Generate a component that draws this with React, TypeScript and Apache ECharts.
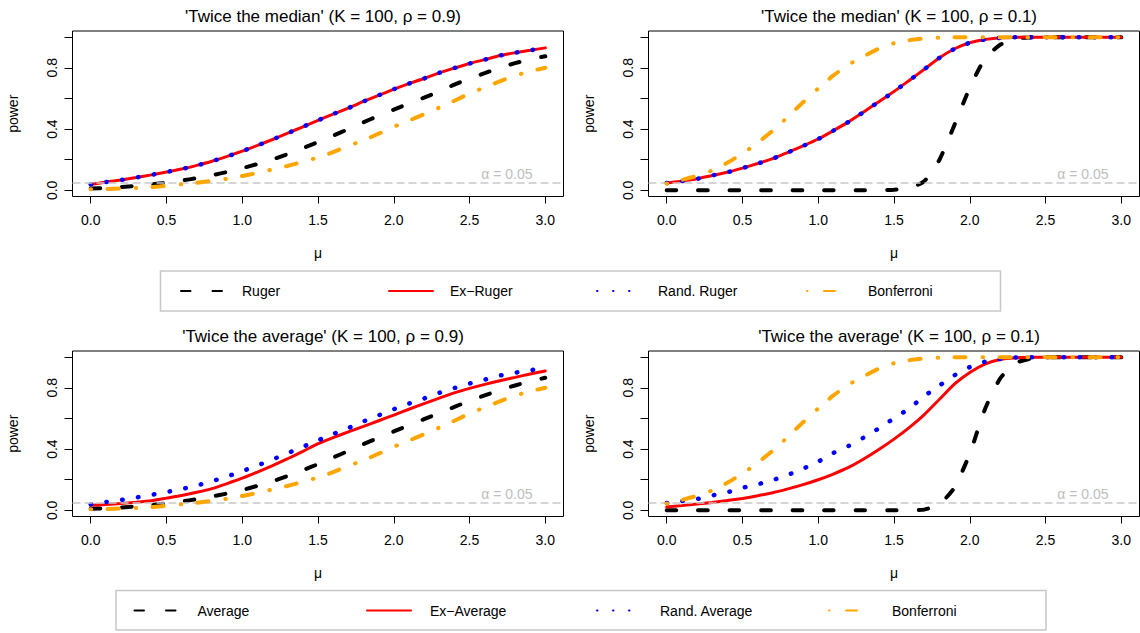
import React, { useEffect, useRef } from "react";
import * as echarts from "echarts";

// ---------- data ----------
const MU = [0.0, 0.1, 0.2, 0.3, 0.4, 0.5, 0.6, 0.7, 0.8, 0.9, 1.0, 1.1, 1.2, 1.3, 1.4, 1.5, 1.6, 1.7, 1.8, 1.9, 2.0, 2.1, 2.2, 2.3, 2.4, 2.5, 2.6, 2.7, 2.8, 2.9, 3.0];

// Panel 1: 'Twice the median' (K = 100, rho = 0.9)
const rugerMedian09 = [0.012, 0.016, 0.022, 0.03, 0.039, 0.05, 0.064, 0.08, 0.099, 0.12, 0.145, 0.172, 0.202, 0.237, 0.275, 0.315, 0.357, 0.4, 0.444, 0.487, 0.527, 0.567, 0.605, 0.645, 0.69, 0.73, 0.765, 0.8, 0.83, 0.856, 0.875];
const exRugerMedian09 = [0.039, 0.054, 0.068, 0.084, 0.101, 0.12, 0.139, 0.163, 0.19, 0.222, 0.256, 0.293, 0.332, 0.373, 0.415, 0.457, 0.498, 0.537, 0.58, 0.62, 0.66, 0.697, 0.73, 0.767, 0.798, 0.828, 0.853, 0.88, 0.898, 0.914, 0.93];
const randRugerMedian09 = [0.039, 0.054, 0.068, 0.084, 0.101, 0.12, 0.139, 0.163, 0.19, 0.222, 0.256, 0.293, 0.332, 0.373, 0.415, 0.457, 0.498, 0.537, 0.58, 0.62, 0.66, 0.697, 0.73, 0.767, 0.798, 0.828, 0.853, 0.88, 0.898, 0.914, 0.93];
const bonfRho09 = [0.007, 0.009, 0.012, 0.016, 0.022, 0.03, 0.04, 0.05, 0.062, 0.076, 0.094, 0.114, 0.137, 0.16, 0.186, 0.215, 0.25, 0.29, 0.327, 0.37, 0.415, 0.455, 0.497, 0.54, 0.585, 0.632, 0.672, 0.712, 0.748, 0.777, 0.8];

// Panel 2: 'Twice the median' (K = 100, rho = 0.1)
const rugerMedian01 = [0, 0, 0, 0, 0, 0, 0, 0, 0, 0, 0, 0, 0, 0, 0.001, 0.004, 0.016, 0.06, 0.2, 0.43, 0.67, 0.86, 0.95, 0.99, 0.998, 1, 1, 1, 1, 1, 1];
const exRugerMedian01 = [0.048, 0.06, 0.075, 0.097, 0.118, 0.145, 0.175, 0.207, 0.248, 0.29, 0.335, 0.39, 0.447, 0.512, 0.578, 0.645, 0.717, 0.79, 0.865, 0.924, 0.963, 0.985, 0.995, 0.999, 1, 1, 1, 1, 1, 1, 1];
const randRugerMedian01 = [0.048, 0.06, 0.075, 0.097, 0.118, 0.145, 0.175, 0.207, 0.248, 0.29, 0.335, 0.39, 0.447, 0.512, 0.578, 0.645, 0.717, 0.79, 0.865, 0.924, 0.963, 0.985, 0.995, 0.999, 1, 1, 1, 1, 1, 1, 1];
const bonfRho01 = [0.044, 0.068, 0.095, 0.13, 0.18, 0.24, 0.31, 0.39, 0.48, 0.575, 0.665, 0.75, 0.82, 0.875, 0.925, 0.96, 0.98, 0.992, 0.997, 1, 1, 1, 1, 1, 1, 1, 1, 1, 1, 1, 1];

// Panel 3: 'Twice the average' (K = 100, rho = 0.9)
const averageRho09 = [0.01, 0.014, 0.019, 0.026, 0.035, 0.045, 0.058, 0.073, 0.09, 0.11, 0.133, 0.16, 0.19, 0.225, 0.262, 0.302, 0.345, 0.388, 0.432, 0.475, 0.515, 0.555, 0.595, 0.635, 0.675, 0.715, 0.75, 0.785, 0.815, 0.843, 0.865];
const exAverageRho09 = [0.033, 0.038, 0.045, 0.053, 0.063, 0.08, 0.097, 0.118, 0.142, 0.175, 0.21, 0.25, 0.292, 0.337, 0.385, 0.435, 0.475, 0.512, 0.548, 0.585, 0.622, 0.66, 0.697, 0.733, 0.767, 0.796, 0.822, 0.846, 0.868, 0.89, 0.91];
const randAverageRho09 = [0.039, 0.054, 0.068, 0.084, 0.101, 0.12, 0.139, 0.163, 0.19, 0.222, 0.256, 0.293, 0.332, 0.373, 0.415, 0.457, 0.498, 0.537, 0.58, 0.62, 0.66, 0.697, 0.73, 0.767, 0.798, 0.828, 0.853, 0.88, 0.898, 0.914, 0.93];

// Panel 4: 'Twice the average' (K = 100, rho = 0.1)
const averageRho01 = [0, 0, 0, 0, 0, 0, 0, 0, 0, 0, 0, 0, 0, 0, 0, 0, 0.001, 0.005, 0.04, 0.15, 0.37, 0.66, 0.86, 0.96, 0.99, 0.998, 1, 1, 1, 1, 1];
const exAverageRho01 = [0.022, 0.031, 0.041, 0.052, 0.064, 0.078, 0.095, 0.115, 0.14, 0.168, 0.2, 0.237, 0.28, 0.335, 0.397, 0.465, 0.54, 0.625, 0.725, 0.825, 0.9, 0.955, 0.985, 0.996, 0.999, 1, 1, 1, 1, 1, 1];
const randAverageRho01 = [0.048, 0.06, 0.074, 0.097, 0.118, 0.147, 0.17, 0.198, 0.232, 0.272, 0.318, 0.375, 0.42, 0.475, 0.535, 0.6, 0.665, 0.745, 0.815, 0.882, 0.935, 0.97, 0.988, 0.997, 1, 1, 1, 1, 1, 1, 1];

const X_TICKS = [0, 0.5, 1, 1.5, 2, 2.5, 3];
const Y_TICKS = [0, 0.2, 0.4, 0.6, 0.8, 1];
const Y_LABELS = [0, 0.4, 0.8];
const ALPHA = 0.05;
const ALPHA_LABEL = "α = 0.05";

const TITLES = [
  "'Twice the median' (K = 100, ρ = 0.9)",
  "'Twice the median' (K = 100, ρ = 0.1)",
  "'Twice the average' (K = 100, ρ = 0.9)",
  "'Twice the average' (K = 100, ρ = 0.1)",
];
const LEGEND_TOP = ["Ruger", "Ex−Ruger", "Rand. Ruger", "Bonferroni"];
const LEGEND_BOTTOM = ["Average", "Ex−Average", "Rand. Average", "Bonferroni"];

const PANEL_DATA = [
  { names: LEGEND_TOP, values: [rugerMedian09, exRugerMedian09, randRugerMedian09, bonfRho09] },
  { names: LEGEND_TOP, values: [rugerMedian01, exRugerMedian01, randRugerMedian01, bonfRho01] },
  { names: LEGEND_BOTTOM, values: [averageRho09, exAverageRho09, randAverageRho09, bonfRho09] },
  { names: LEGEND_BOTTOM, values: [averageRho01, exAverageRho01, randAverageRho01, bonfRho01] },
];

// ---------- layout & styles ----------
const FONT = "'Liberation Sans', Arial, Helvetica, sans-serif";
const GRIDS = [
  { left: 72.5, top: 31, width: 491, height: 165.5 },
  { left: 648.5, top: 31, width: 491, height: 165.5 },
  { left: 72.5, top: 351, width: 491, height: 165.5 },
  { left: 648.5, top: 351, width: 491, height: 165.5 },
];
const LINE_STYLES: any[] = [
  { color: "#000000", width: 4, type: [9.5, 22], cap: "round" },
  { color: "#FF0000", width: 3, type: "solid", cap: "round" },
  { color: "#0000FF", width: 4.5, type: [0.5, 15.5], cap: "round" },
  { color: "#FFA500", width: 4, type: [0.5, 16.5, 11, 17], cap: "round" },
];
const LEGEND_ROWS = [
  { names: LEGEND_TOP, lefts: [180, 388, 596, 806], top: 284, pad: 12, box: { x: 160.5, y: 271, width: 840, height: 40 } },
  { names: LEGEND_BOTTOM, lefts: [133.5, 366, 596, 828], top: 603.5, pad: 14, box: { x: 116, y: 590.5, width: 930, height: 39.5 } },
];

function buildOption() {
  const fmt = (v: number) => v.toFixed(1);
  const grid = GRIDS.map((g) => ({ ...g, show: true, borderColor: "#000", borderWidth: 1, backgroundColor: "transparent" }));
  const xAxis = GRIDS.map((_, i) => ({
    gridIndex: i,
    type: "value",
    min: -0.12,
    max: 3.12,
    axisLine: { show: false, onZero: false },
    splitLine: { show: false },
    axisTick: { show: true, customValues: X_TICKS, length: 7, lineStyle: { color: "#000", width: 1 } },
    axisLabel: { customValues: X_TICKS, formatter: fmt, fontSize: 14, color: "#000", fontFamily: FONT, margin: 16 },
    name: "μ",
    nameLocation: "middle",
    nameGap: 49,
    nameTextStyle: { fontSize: 14, color: "#000", fontFamily: FONT },
  }));
  const yAxis = GRIDS.map((_, i) => ({
    gridIndex: i,
    type: "value",
    min: -0.04,
    max: 1.04,
    axisLine: { show: false, onZero: false },
    splitLine: { show: false },
    axisTick: { show: true, customValues: Y_TICKS, length: 8, lineStyle: { color: "#000", width: 1 } },
    axisLabel: { customValues: Y_LABELS, formatter: fmt, fontSize: 14, color: "#000", fontFamily: FONT, margin: 14, rotate: 90 },
    name: "power",
    nameLocation: "middle",
    nameGap: 53,
    nameTextStyle: { fontSize: 14, color: "#000", fontFamily: FONT },
  }));
  const series: any[] = [];
  PANEL_DATA.forEach((p, i) => {
    p.values.forEach((vals, j) => {
      const s: any = {
        type: "line",
        name: p.names[j],
        xAxisIndex: i,
        yAxisIndex: i,
        data: MU.map((m, k) => [m, vals[k]]),
        symbol: "none",
        smooth: 0.2,
        silent: true,
        z: 2 + j,
        lineStyle: LINE_STYLES[j],
        itemStyle: { color: LINE_STYLES[j].color },
        emphasis: { disabled: true },
      };
      if (j === 0) {
        s.markLine = {
          silent: true,
          symbol: "none",
          animation: false,
          lineStyle: { color: "#C8C8C8", type: [8, 4], width: 1.5 },
          label: {
            show: true,
            position: "insideEndTop",
            formatter: ALPHA_LABEL,
            color: "#BEBEBE",
            fontSize: 14,
            fontFamily: FONT,
            distance: [31, 2],
          },
          data: [{ yAxis: ALPHA }],
        };
      }
      series.push(s);
    });
  });
  const title = TITLES.map((t, i) => ({
    text: t,
    left: GRIDS[i].left + GRIDS[i].width / 2,
    top: GRIDS[i].top - 28,
    textAlign: "center",
    textStyle: { fontSize: 17, fontWeight: "normal", color: "#000", fontFamily: FONT },
  }));
  const legend: any[] = [];
  LEGEND_ROWS.forEach((row) => {
    row.names.forEach((n, j) => {
      legend.push({
        data: [n],
        left: row.lefts[j],
        top: row.top,
        padding: 0,
        itemWidth: 44,
        itemHeight: 14,
        selectedMode: false,
        itemStyle: { opacity: 0 },
        textStyle: { fontSize: 14, color: "#000", fontFamily: FONT, padding: [0, 0, 0, row.pad] },
      });
    });
  });
  const graphic = LEGEND_ROWS.map((row) => ({
    type: "rect",
    shape: row.box,
    style: { fill: "none", stroke: "#C8C8C8", lineWidth: 1.5 },
    silent: true,
  }));
  return { animation: false, backgroundColor: "#fff", title, grid, xAxis, yAxis, series, legend, graphic };
}

export default function App() {
  const ref = useRef<HTMLDivElement>(null);
  useEffect(() => {
    if (!ref.current) return;
    const chart = echarts.init(ref.current, null, { renderer: "svg" });
    chart.setOption(buildOption() as any);
    return () => chart.dispose();
  }, []);
  return <div ref={ref} style={{ position: "absolute", left: 0, top: 0, width: 1140, height: 633 }} />;
}
